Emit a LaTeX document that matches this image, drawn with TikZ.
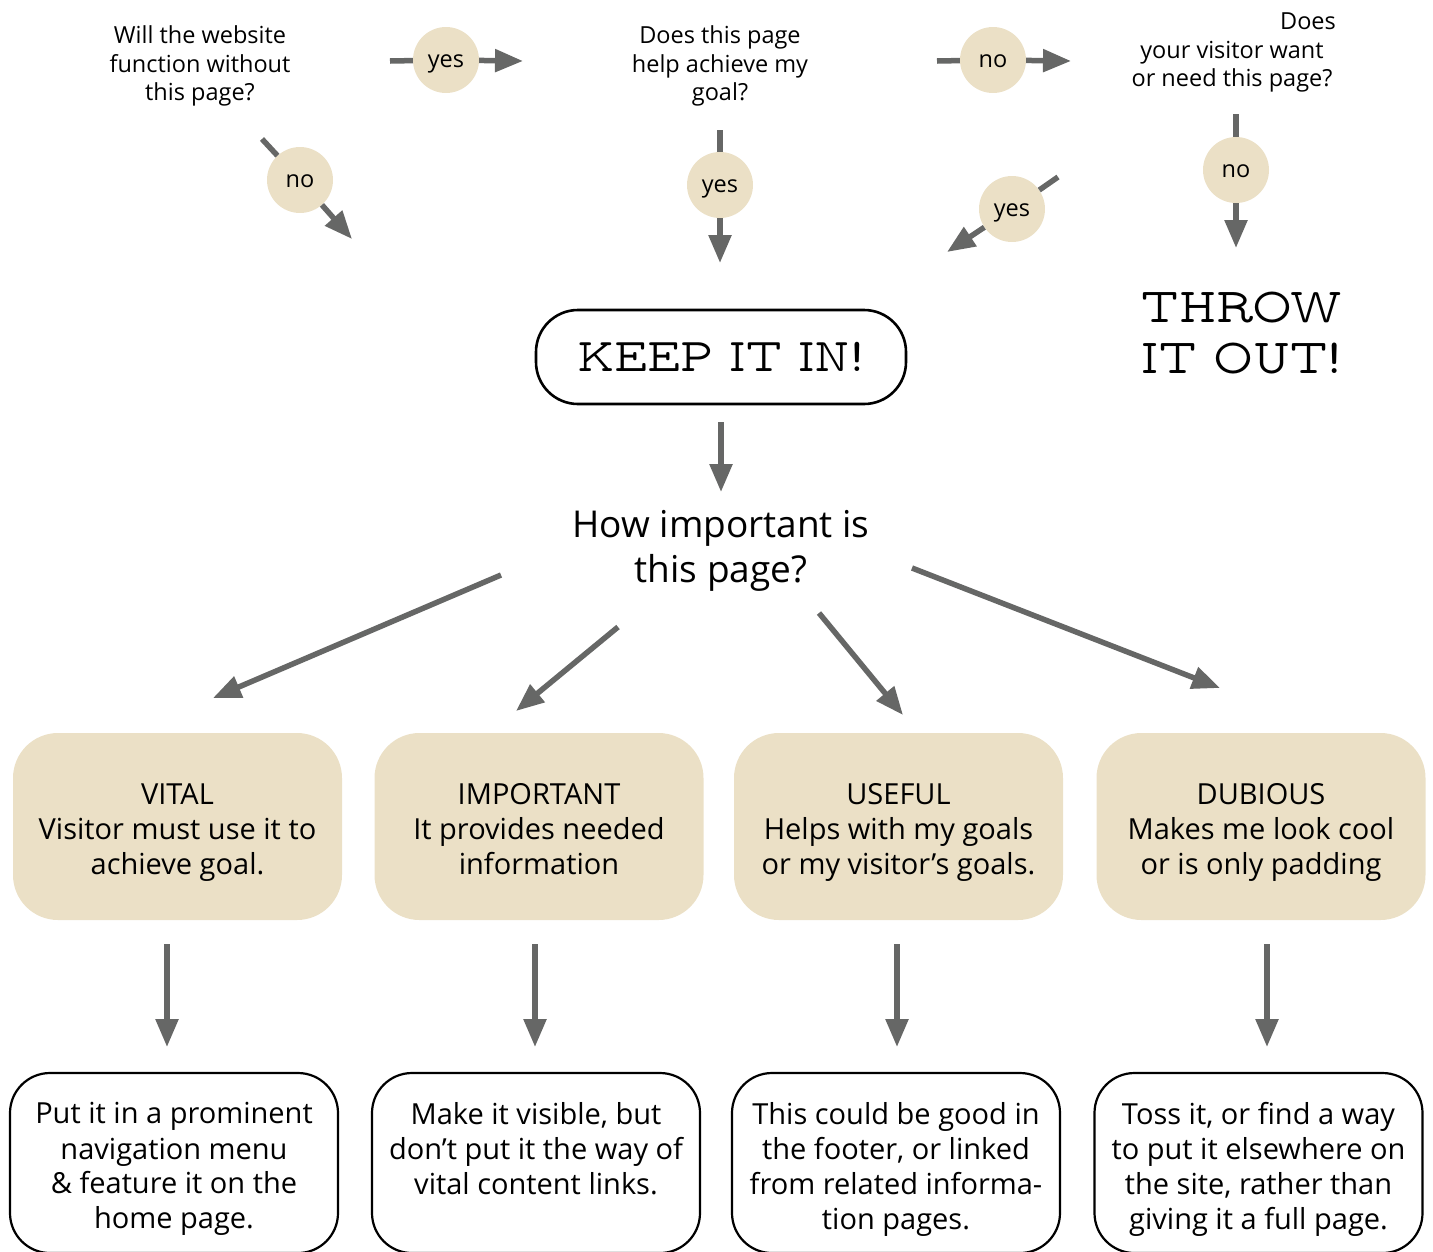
\documentclass[tikz,border=0pt]{standalone}
\usepackage{fontspec}
\setmainfont{Open Sans}
\usetikzlibrary{arrows.meta}
\definecolor{beige}{RGB}{235,224,198}
\definecolor{arrowgray}{RGB}{102,103,102}
\newcommand{\slabfont}{\fontfamily{lmvtt}\selectfont}
\begin{document}
\begin{tikzpicture}[x=1pt,y=-1pt,
  conn/.style={draw=arrowgray,line width=5.5pt},
  arr/.style={conn,-{Triangle[length=28pt,width=22pt]}},
  quest/.style={align=center,inner sep=0pt,font=\fontsize{23.5}{28.5}\selectfont},
  yn/.style={circle,fill=beige,minimum size=66pt,inner sep=0pt,text height=15pt,text depth=0pt,font=\fontsize{23.5}{28}\selectfont},
  cat/.style={rounded corners=45pt,fill=beige,minimum width=329pt,minimum height=187pt,inner sep=0pt},
  cattext/.style={align=center,inner sep=0pt,anchor=north,font=\fontsize{29}{35}\selectfont},
  act/.style={draw=black,line width=2.2pt,rounded corners=40pt,minimum width=328pt,minimum height=180pt,inner sep=0pt},
  acttext/.style={align=center,inner sep=0pt,anchor=north,font=\fontsize{29}{35}\selectfont},
  big/.style={align=center,inner sep=0pt,font=\slabfont\fontsize{49}{51}\selectfont},
]
\useasboundingbox (0,0) rectangle (1433,1251);
\clip (0,0) rectangle (1433,1251);

% questions
\node[quest] (q1) at (200,66) {Will the website\\function without\\this page?};
\node[quest] (q2) at (720,66) {Does this page\\help achieve my\\goal?};
\node[quest] (q3) at (1232,52.5) {\hspace*{152pt}Does\\your visitor want\\or need this page?};

% arrow end coordinates
\coordinate (s1) at (390,61);  \coordinate (t1) at (523,61);
\coordinate (s2) at (262,139); \coordinate (t2) at (352,239);
\coordinate (s3) at (937,61);  \coordinate (t3) at (1071,61);
\coordinate (s4) at (720,130); \coordinate (t4) at (720,263);
\coordinate (s5) at (1236,114);\coordinate (t5) at (1236,248);
\coordinate (s6) at (1058,177);\coordinate (t6) at (947,252);

% yes / no circles
\node[yn] (y1) at (446,60) {yes};
\node[yn] (n1) at (300,180) {no};
\node[yn] (n2) at (993,60) {no};
\node[yn] (y2) at (720,185) {yes};
\node[yn] (n3) at (1236,170) {no};
\node[yn] (y3) at (1012,209) {yes};

\draw[conn] (s1) -- (y1); \draw[arr] (y1) -- (t1);
\draw[conn] (s2) -- (n1); \draw[arr] (n1) -- (t2);
\draw[conn] (s3) -- (n2); \draw[arr] (n2) -- (t3);
\draw[conn] (s4) -- (y2); \draw[arr] (y2) -- (t4);
\draw[conn] (s5) -- (n3); \draw[arr] (n3) -- (t5);
\draw[conn] (s6) -- (y3); \draw[arr] (y3) -- (t6);

% keep / throw
\node[draw=black,line width=2.6pt,rounded corners=42pt,minimum width=370pt,minimum height=94pt,inner sep=0pt,font=\slabfont\fontsize{47}{51}\selectfont] (keep) at (721,357) {KEEP IT IN!};
\node[big] (throw) at (1242,333) {THROW\\IT OUT!};

\coordinate (k1) at (721,422); \coordinate (k2) at (721,492);
\draw[arr] (k1) -- (k2);

\node[align=center,inner sep=0pt,font=\fontsize{37}{45}\selectfont] (how) at (721,551) {How important is\\this page?};

% categories
\node[cat] (c1) at (177.5,826.5) {};
\node[cat] (c2) at (539,826.5) {};
\node[cat] (c3) at (898.5,826.5) {};
\node[cat] (c4) at (1261,826.5) {};
\node[cattext] (c1t) at (177.5,783) {VITAL\\Visitor must use it to\\achieve goal.};
\node[cattext] (c2t) at (539,783) {IMPORTANT\\It provides needed\\information};
\node[cattext] (c3t) at (898.5,783) {USEFUL\\Helps with my goals\\or my visitor’s goals.};
\node[cattext] (c4t) at (1261,783) {DUBIOUS\\Makes me look cool\\or is only padding};

\coordinate (d1s) at (501,575); \coordinate (d1t) at (213,698);
\coordinate (d2s) at (618,627); \coordinate (d2t) at (516,711);
\coordinate (d3s) at (819,613); \coordinate (d3t) at (903,715);
\coordinate (d4s) at (912,568); \coordinate (d4t) at (1220,688);
\draw[arr] (d1s) -- (d1t);
\draw[arr] (d2s) -- (d2t);
\draw[arr] (d3s) -- (d3t);
\draw[arr] (d4s) -- (d4t);

% actions
\node[act] (a1) at (174,1163) {};
\node[act] (a2) at (536,1163) {};
\node[act] (a3) at (896,1163) {};
\node[act] (a4) at (1258.5,1163) {};
\node[acttext] (a1t) at (174,1102.5) {Put it in a prominent\\navigation menu\\\& feature it on the\\home page.};
\node[acttext] (a2t) at (536,1102.5) {Make it visible, but\\don’t put it the way of\\vital content links.};
\node[acttext] (a3t) at (896,1102.5) {This could be good in\\the footer, or linked\\from related informa-\\tion pages.};
\node[acttext] (a4t) at (1258.5,1102.5) {Toss it, or find a way\\to put it elsewhere on\\the site, rather than\\giving it a full page.};

\coordinate (v1s) at (167,944);  \coordinate (v1t) at (167,1047);
\coordinate (v2s) at (535,944);  \coordinate (v2t) at (535,1047);
\coordinate (v3s) at (897,944);  \coordinate (v3t) at (897,1047);
\coordinate (v4s) at (1267,944); \coordinate (v4t) at (1267,1047);
\draw[arr] (v1s) -- (v1t);
\draw[arr] (v2s) -- (v2t);
\draw[arr] (v3s) -- (v3t);
\draw[arr] (v4s) -- (v4t);
\end{tikzpicture}
\end{document}
